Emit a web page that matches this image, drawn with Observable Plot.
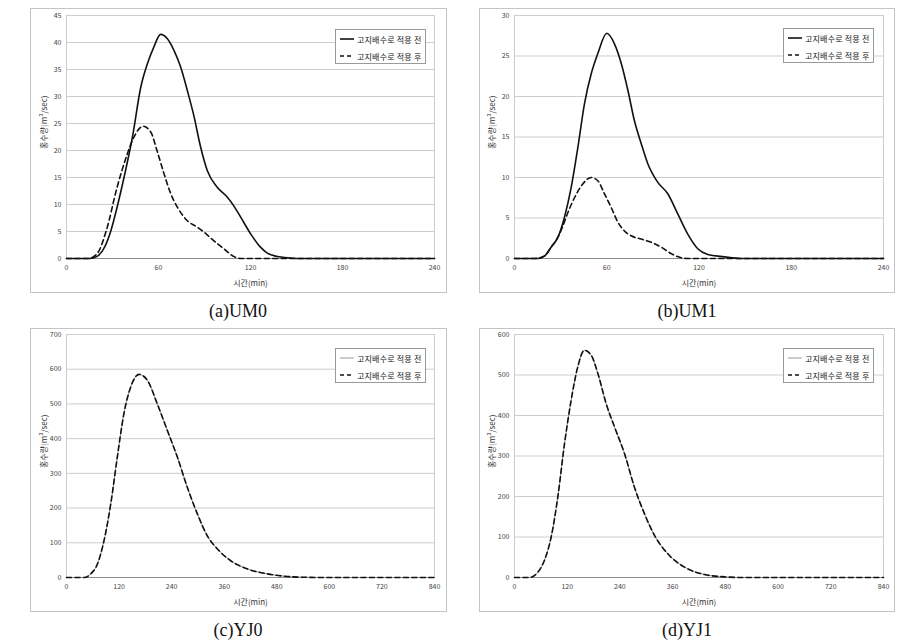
<!DOCTYPE html>
<html>
<head>
<meta charset="utf-8">
<script src="https://cdn.jsdelivr.net/npm/d3@7"></script>
<script src="https://cdn.jsdelivr.net/npm/@observablehq/plot@0.6"></script>
<style>
  html, body { margin: 0; padding: 0; background: #fff; }
  #root { position: relative; width: 917px; height: 644px; overflow: hidden; background: #fff; }
  .panel { position: absolute; outline: 1px solid #c4c4c4; outline-offset: -1px; }
  .legend { position: absolute; width: 89px; height: 33px; border: 1px solid #9a9a9a; background: #fff;
            font-family: "Noto Sans CJK KR", sans-serif; font-size: 8px; letter-spacing: 0.2px; color: #222; }
  .legend .row { position: absolute; left: 4px; height: 10px; display: flex; align-items: center; white-space: nowrap; }
  .legend svg { margin-right: 2px; }
  .caption { position: absolute; font-family: "Liberation Serif", "DejaVu Serif", serif; font-size: 18px; color: #111;
             transform: translate(-50%, -50%); white-space: nowrap; }
</style>
</head>
<body>
<div id="root"></div>
<script>
// ---------- data ----------
const legendBefore = "고지배수로 적용 전";
const legendAfter = "고지배수로 적용 후";
const xLabel = "시간(min)";
const yLabel = "홍수량(m³/sec)";
const captions = ["(a)UM0", "(b)UM1", "(c)YJ0", "(d)YJ1"];

const umTicksX = [0, 60, 120, 180, 240];
const yjTicksX = [0, 120, 240, 360, 480, 600, 720, 840];
const um0TicksY = [0, 5, 10, 15, 20, 25, 30, 35, 40, 45];
const um1TicksY = [0, 5, 10, 15, 20, 25, 30];
const yj0TicksY = [0, 100, 200, 300, 400, 500, 600, 700];
const yj1TicksY = [0, 100, 200, 300, 400, 500, 600];

// (a) UM0
const um0BeforeTime = [0, 15, 20, 25, 29, 33, 37.5, 43, 48.5, 52.7, 57, 61.4, 65.8, 70, 74.4, 78.8, 83, 87.5, 91.8, 98.3, 104.8, 109, 113.5, 120, 126.5, 131, 137, 146, 153, 240];
const um0BeforeFlow = [0, 0, 0.4, 2.2, 5.2, 9.5, 15, 22.5, 31.8, 36, 39.2, 41.5, 40.7, 38.6, 35.5, 31.1, 26.5, 20.6, 16.3, 13.2, 11.4, 9.8, 7.7, 4.6, 2.1, 1.0, 0.4, 0.1, 0, 0];
const um0AfterTime = [0, 14, 20, 26, 33, 39.7, 44, 50, 55, 59, 63.6, 68, 72.3, 78.8, 85.3, 89.6, 96, 102.6, 109, 113.5, 240];
const um0AfterFlow = [0, 0, 0.9, 5.2, 13.2, 19.4, 22.5, 24.5, 23.4, 20, 15.7, 12, 9.5, 7, 5.8, 4.9, 3.3, 1.8, 0.4, 0, 0];

// (b) UM1
const um1BeforeTime = [0, 15, 19.5, 23.8, 28.2, 32.5, 36.9, 41.2, 45.5, 49.9, 54.2, 60, 65, 69.4, 73.7, 78, 82.4, 86.7, 93.2, 99.7, 106.2, 112.7, 119.2, 125.7, 136.6, 147, 240];
const um1BeforeFlow = [0, 0, 0.3, 1.4, 2.6, 5.1, 8.8, 13.7, 19.1, 22.8, 25.3, 27.8, 26.5, 24.1, 20.8, 17, 14.2, 11.7, 9.4, 8, 5.5, 3, 1.2, 0.5, 0.2, 0, 0];
const um1AfterTime = [0, 13, 19.5, 23.8, 28.2, 31, 35, 39, 44.4, 49.9, 54.2, 58.5, 62.9, 67.2, 71.5, 75.9, 82.4, 88.9, 95.4, 101.9, 108.4, 112.7, 240];
const um1AfterFlow = [0, 0, 0.3, 1.4, 2.6, 3.8, 5.8, 7.5, 9.2, 10, 9.6, 8, 6.3, 4.5, 3.4, 2.8, 2.4, 2, 1.4, 0.6, 0.1, 0, 0];

// (c) YJ0
const yj0BeforeTime = [0, 40, 55, 70.6, 85.8, 101, 116, 131, 146.6, 165.6, 184.6, 207, 230, 253, 275.7, 298.5, 321, 344, 374, 412, 458, 503.5, 549, 600, 840];
const yj0BeforeFlow = [0, 0, 10, 39, 107, 212, 347, 472, 549, 585, 568, 501, 424, 347, 260, 184, 121, 83, 49, 25, 10.6, 3, 0.5, 0, 0];
const yj0AfterTime = [0, 40, 55, 70.6, 85.8, 101, 116, 131, 146.6, 165.6, 184.6, 207, 230, 253, 275.7, 298.5, 321, 344, 374, 412, 458, 503.5, 549, 600, 840];
const yj0AfterFlow = [0, 0, 10, 39, 107, 212, 347, 472, 549, 585, 568, 501, 424, 347, 260, 184, 121, 83, 49, 25, 10.6, 3, 0.5, 0, 0];

// (d) YJ1
const yj1BeforeTime = [0, 34, 53, 68, 83.5, 98.6, 113.8, 129, 144, 159, 174.5, 189.7, 208.7, 227.6, 250.4, 273, 296, 318.7, 349, 387, 432.6, 478, 516, 840];
const yj1BeforeFlow = [0, 0, 13, 42, 100, 199, 330, 438, 520, 561, 549, 504, 429, 372, 306, 223, 157, 104, 58.5, 25.5, 7.4, 1.6, 0, 0];
const yj1AfterTime = [0, 34, 53, 68, 83.5, 98.6, 113.8, 129, 144, 159, 174.5, 189.7, 208.7, 227.6, 250.4, 273, 296, 318.7, 349, 387, 432.6, 478, 516, 840];
const yj1AfterFlow = [0, 0, 13, 42, 100, 199, 330, 438, 520, 561, 549, 504, 429, 372, 306, 223, 157, 104, 58.5, 25.5, 7.4, 1.6, 0, 0];

// ---------- drawing ----------
const zip = (t, q) => t.map((v, i) => ({t: v, q: q[i]}));
const root = document.getElementById("root");
const font = '"Noto Sans CJK KR", "Noto Sans", sans-serif';

function panel(cfg) {
  const beforeStyle = cfg.thin
    ? {stroke: "#9a9a9a", strokeWidth: 1}
    : {stroke: "#111", strokeWidth: 1.6};
  const svg = Plot.plot({
    width: cfg.width, height: cfg.height,
    marginLeft: cfg.ml, marginRight: cfg.mr, marginTop: cfg.mt, marginBottom: cfg.mb,
    style: {fontFamily: font, fontSize: "7px", color: "#444", background: "white", overflow: "visible"},
    x: {domain: [0, cfg.xMax]},
    y: {domain: [0, cfg.yMax]},
    marks: [
      Plot.gridY(cfg.yTicks, {stroke: "#cdcdcd", strokeOpacity: 1}),
      Plot.frame({stroke: "#cdcdcd"}),
      Plot.ruleY([0], {stroke: "#8c8c8c"}),
      Plot.axisX(cfg.xTicks, {tickSize: 0, tickPadding: 7, label: null, fontSize: 7, fill: "#444"}),
      Plot.axisY(cfg.yTicks, {tickSize: 0, tickPadding: 5, label: null, fontSize: 7, fill: "#444"}),
      Plot.line(zip(cfg.bt, cfg.bq), {x: "t", y: "q", curve: "monotone-x", ...beforeStyle}),
      Plot.line(zip(cfg.at, cfg.aq), {x: "t", y: "q", curve: "monotone-x", stroke: "#111", strokeWidth: 1.6, strokeDasharray: "5,3.5"}),
      Plot.text([xLabel], {text: d => d, frameAnchor: "bottom", dy: 27, fontSize: 8, fill: "#333"}),
      Plot.text([yLabel], {text: d => d, frameAnchor: "left", dx: -22, dy: 12, rotate: -90, fontSize: 8, fill: "#333"})
    ]
  });
  svg.classList.add("panel");
  svg.style.left = cfg.left + "px";
  svg.style.top = cfg.top + "px";
  root.appendChild(svg);

  // legend
  const lg = document.createElement("div");
  lg.className = "legend";
  lg.style.left = cfg.lgLeft + "px";
  lg.style.top = cfg.lgTop + "px";
  const solidSample = cfg.thin
    ? '<line x1="0" x2="14" y1="3" y2="3" stroke="#9a9a9a" stroke-width="1"/>'
    : '<line x1="0" x2="14" y1="3" y2="3" stroke="#111" stroke-width="1.6"/>';
  lg.innerHTML =
    `<div class="row" style="top:4px"><svg width="15" height="6">${solidSample}</svg>${legendBefore}</div>` +
    `<div class="row" style="top:21px"><svg width="15" height="6"><line x1="0" x2="14" y1="3" y2="3" stroke="#111" stroke-width="1.6" stroke-dasharray="4,3"/></svg>${legendAfter}</div>`;
  root.appendChild(lg);

  const cap = document.createElement("div");
  cap.className = "caption";
  cap.textContent = cfg.caption;
  cap.style.left = cfg.capX + "px";
  cap.style.top = cfg.capY + "px";
  root.appendChild(cap);
}

panel({left: 30, top: 8, width: 417, height: 285, ml: 36, mr: 13, mt: 7, mb: 35,
  xMax: 240, xTicks: umTicksX, yMax: 45, yTicks: um0TicksY,
  bt: um0BeforeTime, bq: um0BeforeFlow, at: um0AfterTime, aq: um0AfterFlow, thin: false,
  lgLeft: 335, lgTop: 29, caption: captions[0], capX: 238, capY: 311});
panel({left: 479, top: 8, width: 416, height: 285, ml: 35, mr: 12, mt: 7, mb: 35,
  xMax: 240, xTicks: umTicksX, yMax: 30, yTicks: um1TicksY,
  bt: um1BeforeTime, bq: um1BeforeFlow, at: um1AfterTime, aq: um1AfterFlow, thin: false,
  lgLeft: 783, lgTop: 28, caption: captions[1], capX: 687, capY: 311});
panel({left: 30, top: 328, width: 417, height: 284, ml: 36, mr: 13, mt: 6, mb: 35,
  xMax: 840, xTicks: yjTicksX, yMax: 700, yTicks: yj0TicksY,
  bt: yj0BeforeTime, bq: yj0BeforeFlow, at: yj0AfterTime, aq: yj0AfterFlow, thin: true,
  lgLeft: 335, lgTop: 348, caption: captions[2], capX: 238, capY: 630});
panel({left: 479, top: 328, width: 416, height: 284, ml: 35, mr: 12, mt: 6, mb: 35,
  xMax: 840, xTicks: yjTicksX, yMax: 600, yTicks: yj1TicksY,
  bt: yj1BeforeTime, bq: yj1BeforeFlow, at: yj1AfterTime, aq: yj1AfterFlow, thin: true,
  lgLeft: 783, lgTop: 348, caption: captions[3], capX: 687, capY: 630});
</script>
</body>
</html>
